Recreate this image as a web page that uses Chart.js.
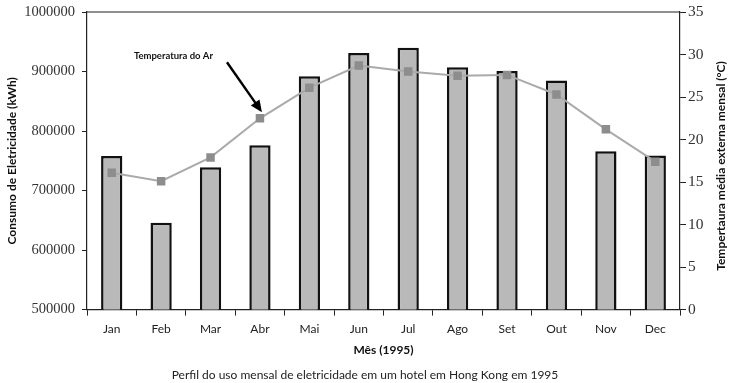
<!DOCTYPE html>
<html>
<head>
<meta charset="utf-8">
<script src="https://cdn.jsdelivr.net/npm/chart.js@4.4.1/dist/chart.umd.min.js"></script>
<style>
  html, body { margin: 0; padding: 0; background: #fff; }
  #wrap { width: 730px; height: 383px; }
</style>
</head>
<body>
<div id="wrap"><canvas id="chart"></canvas></div>
<script>
const months = ['Jan', 'Feb', 'Mar', 'Abr', 'Mai', 'Jun', 'Jul', 'Ago', 'Set', 'Out', 'Nov', 'Dec'];
const consumo = [758000, 646000, 739000, 776000, 892000, 931000, 940000, 907000, 901000, 885000, 766000, 759000];
const temperatura = [16.1, 15.1, 17.9, 22.5, 26.1, 28.7, 28.0, 27.5, 27.6, 25.3, 21.2, 17.4];
const annotationIndex = 3; // Abr
const annotationText = 'Temperatura do Ar';
const rightTitle = 'Tempertaura média externa mensal (°C)';

const serif = "'Liberation Serif', 'Times New Roman', serif";
const sans = "Lato, 'Open Sans', sans-serif";

// top frame line, right axis title and the arrow label
const extras = {
    id: 'extras',
    afterDraw(chart) {
        const ctx = chart.ctx;
        const a = chart.chartArea;
        ctx.save();
        ctx.strokeStyle = '#222';
        ctx.lineWidth = 1.2;
        ctx.beginPath();
        ctx.moveTo(a.left, a.top);
        ctx.lineTo(a.right, a.top);
        ctx.stroke();

        // right title reads bottom to top
        ctx.fillStyle = '#111';
        ctx.font = 'bold 12px ' + sans;
        ctx.textAlign = 'center';
        ctx.textBaseline = 'middle';
        ctx.translate(721, 166);
        ctx.rotate(-Math.PI / 2);
        ctx.fillText(rightTitle, 0, 0);
        ctx.restore();

        // arrow pointing at the temperature point
        const pt = chart.getDatasetMeta(1).data[annotationIndex];
        const tx = pt.x + 2, ty = pt.y - 6;
        const sx = tx - 35, sy = ty - 50;
        const ang = Math.atan2(ty - sy, tx - sx);
        ctx.save();
        ctx.strokeStyle = '#000';
        ctx.fillStyle = '#000';
        ctx.lineWidth = 2.4;
        ctx.beginPath();
        ctx.moveTo(sx, sy);
        ctx.lineTo(tx - 9 * Math.cos(ang), ty - 9 * Math.sin(ang));
        ctx.stroke();
        ctx.beginPath();
        ctx.moveTo(tx, ty);
        ctx.lineTo(tx - 13 * Math.cos(ang - 0.42), ty - 13 * Math.sin(ang - 0.42));
        ctx.lineTo(tx - 13 * Math.cos(ang + 0.42), ty - 13 * Math.sin(ang + 0.42));
        ctx.closePath();
        ctx.fill();
        ctx.fillStyle = '#111';
        ctx.font = 'bold 9.5px ' + sans;
        ctx.textAlign = 'right';
        ctx.textBaseline = 'middle';
        ctx.fillText(annotationText, sx - 14, sy - 6);
        ctx.restore();
    }
};

new Chart(document.getElementById('chart'), {
    type: 'bar',
    data: {
        labels: months,
        datasets: [{
            type: 'bar',
            data: consumo,
            yAxisID: 'y',
            backgroundColor: '#b9b9b9',
            borderColor: '#111',
            borderWidth: 2.5,
            borderSkipped: false,
            barPercentage: 0.43,
            categoryPercentage: 1,
            order: 1
        }, {
            type: 'line',
            data: temperatura,
            yAxisID: 'y1',
            borderColor: '#aaaaaa',
            borderWidth: 2,
            tension: 0,
            pointStyle: 'rect',
            pointRadius: 6,
            pointBackgroundColor: '#8d8d8d',
            pointBorderWidth: 0,
            order: 0
        }]
    },
    options: {
        responsive: true,
        maintainAspectRatio: false,
        animation: false,
        layout: { padding: { top: 12, left: 0, right: 0, bottom: 0 } },
        plugins: {
            legend: { display: false },
            tooltip: { enabled: false },
            title: {
                display: true,
                position: 'bottom',
                text: 'Perfil do uso mensal de eletricidade em um hotel em Hong Kong em 1995',
                color: '#222',
                font: { family: sans, size: 12, weight: 'normal' },
                padding: { top: 8, bottom: 1 }
            }
        },
        scales: {
            x: {
                grid: { display: true, drawOnChartArea: false, drawTicks: true, tickLength: 6, color: '#222', offset: true },
                border: { display: true, color: '#222', width: 1.2 },
                ticks: { color: '#222', font: { family: sans, size: 12 }, padding: 6 },
                title: {
                    display: true, text: 'Mês (1995)', color: '#111',
                    font: { family: sans, size: 12, weight: 'bold' },
                    padding: { top: 4, bottom: 2 }
                },
                afterFit(scale) { scale.height = 50; }
            },
            y: {
                position: 'left',
                min: 500000,
                max: 1000000,
                grid: { drawOnChartArea: false, drawTicks: true, tickLength: 5, color: '#222' },
                border: { display: true, color: '#222', width: 1.2 },
                ticks: {
                    stepSize: 100000, color: '#333', padding: 7,
                    font: { family: serif, size: 14.5 },
                    callback: (v) => String(v)
                },
                title: {
                    display: true, text: 'Consumo de Eletricidade (kWh)', color: '#111',
                    font: { family: sans, size: 12, weight: 'bold' },
                    padding: { top: 5, bottom: 0 }
                },
                afterFit(scale) {
                    scale.width = 87;
                    scale.paddingTop = 0;
                    scale.paddingBottom = 0;
                }
            },
            y1: {
                position: 'right',
                min: 0,
                max: 35,
                grid: { drawOnChartArea: false, drawTicks: true, tickLength: 6, color: '#222' },
                border: { display: true, color: '#222', width: 1.2 },
                ticks: { stepSize: 5, color: '#333', font: { family: serif, size: 15.5 }, padding: 2 },
                afterFit(scale) {
                    scale.width = 50;
                    scale.paddingTop = 0;
                    scale.paddingBottom = 0;
                }
            }
        }
    },
    plugins: [extras]
});
</script>
</body>
</html>
